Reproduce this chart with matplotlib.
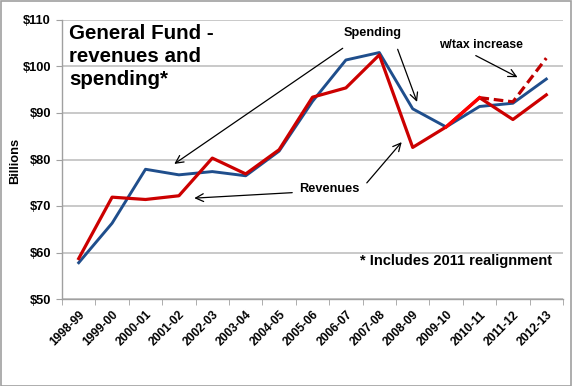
import matplotlib
matplotlib.use("Agg")
import matplotlib.pyplot as plt
import numpy as np
from matplotlib.patches import Rectangle

years = ["1998-99", "1999-00", "2000-01", "2001-02", "2002-03", "2003-04", "2004-05",
         "2005-06", "2006-07", "2007-08", "2008-09", "2009-10", "2010-11", "2011-12", "2012-13"]
spending = [57.8, 66.3, 77.9, 76.7, 77.4, 76.5, 81.8, 92.5, 101.4, 103.0, 90.9, 87.0, 91.4, 92.1, 97.3]
revenues = [58.7, 71.9, 71.4, 72.2, 80.3, 76.9, 82.1, 93.4, 95.4, 102.5, 82.6, 87.0, 93.3, 88.6, 93.9]
tax_increase = [None] * 12 + [93.3, 92.4, 101.8]
yticks = [50, 60, 70, 80, 90, 100, 110]

plt.rcParams['font.family'] = ['Liberation Sans', 'DejaVu Sans']

fig = plt.figure(figsize=(5.72, 3.86), dpi=100)
ax = fig.add_axes([62/572, 1 - 299/386, (563 - 62)/572, (299 - 20)/386])

x = np.arange(len(years))
blue = '#1F4E8C'
red = '#CC0000'

ax.plot(x, spending, color=blue, lw=2.1, zorder=3)
ax.plot(x, revenues, color=red, lw=2.3, zorder=4)
tx = [i for i, v in enumerate(tax_increase) if v is not None]
tv = [v for v in tax_increase if v is not None]
ax.plot(tx, tv, color='#C00000', lw=2.3, ls=(0, (3, 1.5)), zorder=4)
# bright segment 2009-10 -> 2010-11
ax.plot(x[11:13], revenues[11:13], color='#FF0000', lw=2.3, zorder=5)

ax.set_xlim(-0.5, len(years) - 0.5)
ax.set_ylim(50, 110)
ax.set_yticks(yticks)
ax.set_yticklabels([f"${v}" for v in yticks], fontsize=9.3, fontweight='bold')
ax.set_xticks(x)
ax.set_xticklabels(years, rotation=45, ha='right', rotation_mode='anchor',
                   fontsize=8.6, fontweight='bold')
ax.set_xticks(np.arange(-0.5, len(years), 1), minor=True)
ax.tick_params(axis='x', which='major', length=0, pad=7)
ax.tick_params(axis='x', which='minor', length=4, color='#A0A0A0')
ax.tick_params(axis='y', length=4, color='#A0A0A0', pad=4)

ax.grid(axis='y', color='#C0C0C0', lw=1.2)
ax.set_axisbelow(True)
for s in ['top', 'right']:
    ax.spines[s].set_visible(False)
for s in ['left', 'bottom']:
    ax.spines[s].set_color('#A0A0A0')
    ax.spines[s].set_linewidth(1.0)

fig.text(15/572, 1 - 161/386, "Billions", rotation=90, ha='center', va='center',
         fontsize=9.3, fontweight='bold')

# Title
fig.text(69/572, 1 - 24/386, "General Fund -\nrevenues and\nspending*", ha='left', va='top',
         fontsize=14.8, fontweight='bold', linespacing=1.28)

def px(xp, yp):
    return (xp/572, 1 - yp/386)

arrow = dict(arrowstyle='->', color='black', lw=0.9, mutation_scale=14)
# Spending
fig.text(*px(372.7, 32.7), "Spending", ha='center', va='center', fontsize=9.2, fontweight='bold')
ax.annotate("", xy=px(172, 165.5), xytext=px(345, 46.7), xycoords='figure fraction',
            textcoords='figure fraction', arrowprops=arrow)
ax.annotate("", xy=px(418, 104.5), xytext=px(396.7, 46.7), xycoords='figure fraction',
            textcoords='figure fraction', arrowprops=arrow)
# Revenues
fig.text(*px(329, 189.3), "Revenues", ha='center', va='center', fontsize=9.2, fontweight='bold')
ax.annotate("", xy=px(191.5, 198.3), xytext=px(295, 192.5), xycoords='figure fraction',
            textcoords='figure fraction', arrowprops=arrow)
ax.annotate("", xy=px(403.5, 140), xytext=px(365, 185), xycoords='figure fraction',
            textcoords='figure fraction', arrowprops=arrow)
# w/tax increase
fig.text(*px(481, 45), "w/tax increase", ha='center', va='center', fontsize=8.8, fontweight='bold')
ax.annotate("", xy=px(520, 78.5), xytext=px(473.3, 54.3), xycoords='figure fraction',
            textcoords='figure fraction', arrowprops=arrow)

fig.text(*px(456, 261), "* Includes 2011 realignment", ha='center', va='center',
         fontsize=10.5, fontweight='bold')

fig.patches.append(Rectangle((0.5/572, 0.5/386), 1 - 1.5/572, 1 - 1.5/386, transform=fig.transFigure,
                             fill=False, edgecolor='#A0A0A0', lw=1.2))

fig.savefig("out.png", dpi=100)
